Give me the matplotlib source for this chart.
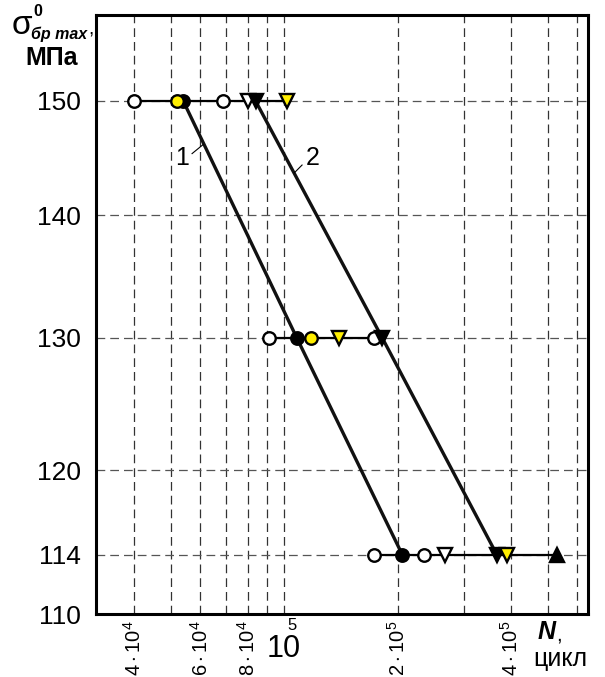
import matplotlib
matplotlib.use("Agg")
import matplotlib.pyplot as plt
import matplotlib.transforms as mtransforms
from matplotlib.ticker import NullFormatter, NullLocator

plt.rcParams['font.family'] = ['Liberation Sans', 'DejaVu Sans']
plt.rcParams['mathtext.fontset'] = 'custom'
plt.rcParams['mathtext.rm'] = 'Liberation Sans'
plt.rcParams['mathtext.it'] = 'Liberation Sans:italic'
plt.rcParams['mathtext.bf'] = 'Liberation Sans:bold'

# points (N in cycles, stress in MPa)
open_circ_N = [4.0e4, 6.9e4, 9.1e4, 1.73e5, 1.73e5, 2.35e5]
open_circ_S = [150, 150, 130, 130, 114, 114]
black_circ_N = [5.4e4, 1.08e5, 2.06e5]
black_circ_S = [150, 130, 114]
yellow_circ_N = [5.2e4, 1.18e5]
yellow_circ_S = [150, 130]
open_tri_N = [8.0e4, 2.67e5]
open_tri_S = [150, 114]
black_tri_N = [8.4e4, 1.82e5, 3.67e5]
black_tri_S = [150, 130, 114]
yellow_tri_N = [1.02e5, 1.40e5, 3.90e5]
yellow_tri_S = [150, 130, 114]
up_tri_N = [5.3e5]
up_tri_S = [114]

# fitted curves 1 and 2
line1_N = [5.4e4, 1.08e5, 2.06e5]
line1_S = [150, 130, 114]
line2_N = [8.4e4, 1.82e5, 3.67e5]
line2_S = [150, 130, 114]

levels = [150, 130, 114]
xtick_vals = [4e4, 6e4, 8e4, 1e5, 2e5, 4e5]
xtick_labels = [r'$4\cdot10^4$', r'$6\cdot10^4$', r'$8\cdot10^4$', '',
                r'$2\cdot10^5$', r'$4\cdot10^5$']
xgrid_vals = [4e4, 5e4, 6e4, 7e4, 8e4, 9e4, 1e5, 2e5, 3e5, 4e5, 5e5, 6e5]
ytick_vals = [110, 114, 120, 130, 140, 150]

fig = plt.figure(figsize=(6.05, 6.77), dpi=100)
ax = fig.add_axes([96/605, 1-614/677, (588-96)/605, (614-15)/677])
ax.set_xscale('log')
ax.set_yscale('log')
ax.set_xlim(3.17e4, 6.4e5)
ax.set_ylim(110.3, 158)

for x in xgrid_vals:
    ax.axvline(x, color='#333333', lw=0.9, ls=(0, (7, 4)), zorder=0)
for y in ytick_vals[1:]:
    ax.axhline(y, color='#555555', lw=0.9, ls=(0, (7, 4)), zorder=0)

# horizontal connections at each stress level
all_N = open_circ_N + black_circ_N + yellow_circ_N + open_tri_N + black_tri_N + yellow_tri_N + up_tri_N
all_S = open_circ_S + black_circ_S + yellow_circ_S + open_tri_S + black_tri_S + yellow_tri_S + up_tri_S
for lv in levels:
    xs = [n for n, s in zip(all_N, all_S) if s == lv]
    ax.plot([min(xs), max(xs)], [lv, lv], color='black', lw=1.6, zorder=2)

ax.plot(line1_N, line1_S, color='#111111', lw=2.4, zorder=3)
ax.plot(line2_N, line2_S, color='#111111', lw=2.4, zorder=3)

ms = 9
ax.plot(open_circ_N, open_circ_S, 'o', ms=ms, mfc='white', mec='black', mew=1.7, zorder=4)
ax.plot(black_circ_N, black_circ_S, 'o', ms=ms, mfc='black', mec='black', mew=1.7, zorder=4)
ax.plot(yellow_circ_N, yellow_circ_S, 'o', ms=ms, mfc='#ffee00', mec='black', mew=1.7, zorder=5)
ax.plot(open_tri_N, open_tri_S, 'v', ms=ms + 1, mfc='white', mec='black', mew=1.7, zorder=4)
ax.plot(black_tri_N, black_tri_S, 'v', ms=ms + 1, mfc='black', mec='black', mew=1.7, zorder=4)
ax.plot(yellow_tri_N, yellow_tri_S, 'v', ms=ms + 1, mfc='#ffee00', mec='black', mew=1.7, zorder=5)
ax.plot(up_tri_N, up_tri_S, '^', ms=ms + 1, mfc='black', mec='black', mew=1.7, zorder=4)

# curve labels with short leaders
ax.text(5.36e4, 144.9, '1', fontsize=18, ha='center', va='center')
ax.plot([5.70e4, 6.10e4], [145.3, 146.1], color='black', lw=0.8, zorder=3)
ax.text(1.194e5, 144.9, '2', fontsize=18, ha='center', va='center')
ax.plot([1.116e5, 1.063e5], [144.3, 143.6], color='black', lw=0.8, zorder=3)

for sp in ax.spines.values():
    sp.set_linewidth(2.2)

ax.xaxis.set_minor_locator(NullLocator())
ax.xaxis.set_minor_formatter(NullFormatter())
ax.yaxis.set_minor_locator(NullLocator())
ax.yaxis.set_minor_formatter(NullFormatter())
ax.set_xticks(xtick_vals)
ax.set_xticklabels(xtick_labels, fontsize=14.5, rotation=90)
ax.set_yticks(ytick_vals)
ax.set_yticklabels([str(v) for v in ytick_vals], fontsize=19)
ax.tick_params(length=0)
ax.tick_params(axis='x', pad=5)
ax.tick_params(axis='y', pad=11)

# the 10^5 label is written upright
bt = mtransforms.blended_transform_factory(ax.transData, fig.transFigure)
ax.text(1e5, 1-649/677, '10', fontsize=22, ha='center', va='center', transform=bt)
ax.text(1.02e5, 1-626/677, '5', fontsize=12, ha='left', va='center', transform=bt)

fig.text(12/605, 1-25/677, 'σ', fontsize=24, ha='left', va='center')
fig.text(33/605, 1-12/677, '0', fontsize=11.5, fontweight='bold', ha='left', va='center')
fig.text(31/605, 1-34/677, 'бр max', fontsize=11.5, fontweight='bold', style='italic',
         ha='left', va='center')
fig.text(88/605, 1-30/677, ',', fontsize=14, ha='left', va='center')
fig.text(52/605, 1-58/677, 'МПа', fontsize=18, fontweight='bold', ha='center', va='center')

fig.text(547/605, 1-632/677, 'N', fontsize=18, fontweight='bold', style='italic',
         ha='center', va='center')
fig.text(556/605, 1-635/677, ',', fontsize=15, ha='left', va='center')
fig.text(560/605, 1-659/677, 'цикл', fontsize=18, ha='center', va='center')

fig.savefig('out.png', dpi=100)
